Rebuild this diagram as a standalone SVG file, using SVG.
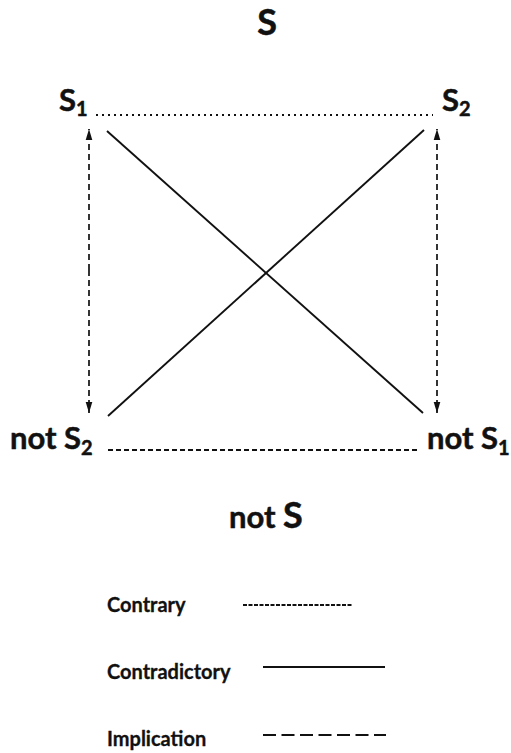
<svg xmlns="http://www.w3.org/2000/svg" width="511" height="753" viewBox="0 0 511 753">
<defs>
<style>
text{font-family:Lato,"Open Sans","Liberation Sans",sans-serif;font-weight:bold;fill:#111;stroke:#111;stroke-width:0.5}
.big{font-size:36px}
.mid{font-size:31px}
.sub{font-size:20px}
.leg{font-size:20px;stroke-width:0.3}
.ln{stroke:#111;fill:none}
.contrary{stroke-width:1.8;stroke-dasharray:5 3}
.dotted{stroke-width:2.2;stroke-dasharray:2 4}
.solid{stroke-width:1.9}
.impl{stroke-width:1.7;stroke-dasharray:6 4}
</style>
<marker id="ah" viewBox="0 0 10 10" refX="10" refY="5" markerWidth="11" markerHeight="11" markerUnits="userSpaceOnUse" orient="auto">
<path d="M0,2 L10,5 L0,8 Z" fill="#111"/>
</marker>
</defs>
<rect width="511" height="753" fill="#fff"/>
<g id="node-S"><text class="big" x="267" y="35" text-anchor="middle">S</text></g>
<g id="node-S1"><text class="mid" x="59" y="111">S<tspan class="sub" dy="5">1</tspan></text></g>
<g id="node-S2"><text class="mid" x="442" y="111">S<tspan class="sub" dy="5">2</tspan></text></g>
<g id="node-notS2"><text class="mid" x="10" y="449">not S<tspan class="sub" dy="6">2</tspan></text></g>
<g id="node-notS1"><text class="mid" x="427" y="449">not S<tspan class="sub" dy="6">1</tspan></text></g>
<g id="node-notS"><text x="229" y="528"><tspan class="mid">not </tspan><tspan class="big">S</tspan></text></g>
<g id="connectors">
<line class="ln dotted" x1="96" y1="115" x2="433" y2="115"/>
<line class="ln contrary" x1="108" y1="450" x2="420" y2="450"/>
<line class="ln solid" x1="107" y1="131" x2="423" y2="413"/>
<line class="ln solid" x1="108" y1="416" x2="424" y2="130"/>
<line class="ln impl" x1="89" y1="270" x2="89" y2="129" marker-end="url(#ah)"/>
<line class="ln impl" x1="89" y1="270" x2="89" y2="413" marker-end="url(#ah)"/>
<line class="ln impl" x1="437" y1="270" x2="437" y2="129" marker-end="url(#ah)"/>
<line class="ln impl" x1="437" y1="270" x2="437" y2="413" marker-end="url(#ah)"/>
</g>
<g id="legend">
<text class="leg" x="107" y="612">Contrary</text>
<line class="ln" stroke-width="1.8" stroke-dasharray="4 1.5" x1="243" y1="605" x2="352" y2="605"/>
<text class="leg" x="107" y="679">Contradictory</text>
<line class="ln solid" x1="263" y1="667" x2="385" y2="667"/>
<text class="leg" x="107" y="746">Implication</text>
<line class="ln" stroke-width="1.8" stroke-dasharray="13 5.5" x1="263" y1="735" x2="386" y2="735"/>
</g>
</svg>
